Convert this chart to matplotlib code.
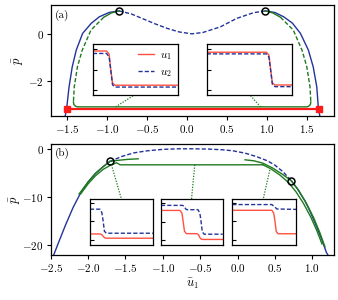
import numpy as np
import matplotlib
matplotlib.use('Agg')
import matplotlib.pyplot as plt
from matplotlib.ticker import FuncFormatter

plt.rcParams['font.family'] = 'serif'
plt.rcParams['font.serif'] = ['cmr10', 'DejaVu Serif']
plt.rcParams['mathtext.fontset'] = 'cm'
plt.rcParams['font.size'] = 8

BLUE = '#23339a'
GREEN = '#1f7a1f'
RED = '#ff1a1a'
IRED = '#ff5040'

# ---- panel (a) ----
a_blue_l_u = [-1.53, -1.51, -1.48, -1.44, -1.39, -1.31, -1.20, -1.10, -0.98, -0.855]
a_blue_l_p = [-3.5, -3.15, -2.24, -1.39, -0.69, 0.02, 0.45, 0.72, 0.90, 0.97]
a_dash_u = [-0.855, -0.7, -0.55, -0.4, -0.25, -0.1, 0.06, 0.2, 0.42, 0.62, 0.83, 0.98]
a_dash_p = [0.97, 0.84, 0.63, 0.42, 0.23, 0.08, 0.0, 0.06, 0.3, 0.65, 0.89, 0.97]
a_blue_r_u = [0.98, 1.10, 1.21, 1.32, 1.42, 1.52, 1.58, 1.625, 1.645, 1.665]
a_blue_r_p = [0.97, 0.90, 0.72, 0.45, 0.02, -0.69, -1.39, -2.24, -3.15, -3.5]
a_green_l_u = [-0.855, -0.95, -1.045, -1.205, -1.315, -1.375, -1.415, -1.425]
a_green_l_p = [0.97, 0.88, 0.70, 0.16, -0.69, -1.39, -2.24, -2.87]
a_green_r_u = [0.98, 1.075, 1.17, 1.33, 1.44, 1.50, 1.54, 1.55]
a_green_r_p = [0.97, 0.88, 0.70, 0.16, -0.69, -1.39, -2.24, -2.87]
a_green_b_u = [-1.425, -1.42, -1.40, -1.375, 1.50, 1.525, 1.545, 1.55]
a_green_b_p = [-2.87, -2.98, -3.05, -3.08, -3.08, -3.05, -2.98, -2.87]
a_red_u = [-1.5, 1.65]
a_red_p = [-3.15, -3.15]
a_circ_u = [-0.855, 0.98]
a_circ_p = [0.97, 0.97]

# ---- panel (b) ----
b_blue_l_u = [-2.46, -2.4, -2.3, -2.2, -2.1, -2.0, -1.9, -1.8, -1.71]
b_blue_l_p = [-22.1, -19.7, -15.8, -12.2, -9.2, -6.9, -5.1, -3.75, -2.64]
b_dash_u = [-1.71, -1.55, -1.39, -1.2, -1.0, -0.8, -0.6, -0.4, -0.2, -0.06, 0.1, 0.25, 0.4, 0.5, 0.61, 0.72]
b_dash_p = [-2.64, -1.6, -0.85, -0.4, -0.12, 0.0, 0.0, -0.05, -0.2, -0.42, -0.9, -1.6, -2.5, -3.4, -4.8, -6.67]
b_blue_r_u = [0.72, 0.8, 0.9, 0.97, 1.05, 1.12, 1.19, 1.21]
b_blue_r_p = [-6.67, -8.3, -10.8, -13.0, -15.9, -18.6, -21.6, -22.1]
b_gB_u = [-2.12, -2.0, -1.9, -1.8, -1.71, -1.6, -1.47, -1.33]
b_gB_p = [-9.4, -6.9, -5.1, -3.75, -2.64, -2.4, -2.2, -2.08]
b_gA_u = [-2.1, -2.0, -1.9, -1.8, -1.7, -1.62, -1.57, 0.34]
b_gA_p = [-9.4, -7.3, -5.6, -4.3, -3.4, -2.9, -3.33, -3.33]
b_gC_u = [0.1, 0.22, 0.34, 0.47, 0.6, 0.72, 0.82, 0.92, 1.02, 1.1, 1.17]
b_gC_p = [-2.29, -2.5, -3.0, -4.0, -5.3, -6.67, -8.7, -11.3, -14.4, -17.4, -20.4]
b_gD_u = [0.34, 0.45, 0.57, 0.68, 0.78, 0.88, 0.98, 1.06, 1.13]
b_gD_p = [-3.33, -4.2, -5.5, -7.0, -8.9, -11.3, -14.2, -17.0, -19.8]
b_circ_u = [-1.71, 0.72]
b_circ_p = [-2.64, -6.67]

# ---- inset profiles ----
i1_x = [0, 0.16, 0.19, 0.21, 0.23, 0.26, 1]
i1_u1 = [0.9, 0.9, 0.75, 0.0, -0.65, -0.76, -0.76]
i1_u2 = [0.78, 0.78, 0.62, -0.05, -0.74, -0.85, -0.85]
i2_x = [0, 0.70, 0.73, 0.75, 0.77, 0.80, 1]
i2_u1 = [0.84, 0.84, 0.7, 0.0, -0.65, -0.75, -0.75]
i2_u2 = [0.76, 0.76, 0.6, -0.05, -0.72, -0.83, -0.83]
i3_x = [0, 0.16, 0.19, 0.21, 0.23, 0.26, 1]
i3_u1 = [-0.70, -0.70, -0.74, -0.82, -0.90, -0.93, -0.93]
i3_u2 = [0.64, 0.64, 0.45, 0.0, -0.55, -0.66, -0.66]
i4_x1 = [0, 0.31, 0.34, 0.36, 0.38, 0.41, 0.58, 0.61, 0.63, 0.65, 0.68, 1]
i4_u1 = [0.6, 0.6, 0.45, 0.0, -0.5, -0.64, -0.64, -0.7, -0.85, -0.93, -0.95, -0.95]
i4_x2 = [0, 0.35, 0.38, 0.40, 0.42, 0.60, 0.63, 0.65, 0.67, 0.70, 1]
i4_u2 = [0.87, 0.87, 0.80, 0.68, 0.64, 0.64, 0.45, 0.0, -0.55, -0.67, -0.67]
i5_x1 = [0, 0.62, 0.65, 0.67, 0.69, 0.72, 1]
i5_u1 = [0.6, 0.6, 0.45, 0.0, -0.55, -0.67, -0.67]
i5_x2 = [0, 0.62, 0.66, 0.70, 1]
i5_u2 = [0.91, 0.91, 0.8, 0.67, 0.65]

fig = plt.figure(figsize=(3.38, 3.0), dpi=100)

def fmt(v, pos):
    s = '%g' % v
    if s == '-0':
        s = '0'
    if '.' not in s and abs(v) < 5 and v != 0 and abs(v) != int(abs(v)) :
        pass
    return '$' + s + '$'

def fmt1(v, pos):
    return '$%.1f$' % v

def style_main(ax):
    for s in ax.spines.values():
        s.set_linewidth(0.9)
    ax.tick_params(direction='out', length=3, width=0.8, labelsize=8, pad=2)

# panel (a)
ax1 = fig.add_axes([0.150, 0.613, 0.838, 0.369])
ax1.plot(a_blue_l_u, a_blue_l_p, color=BLUE, lw=1.0)
ax1.plot(a_blue_r_u, a_blue_r_p, color=BLUE, lw=1.0)
ax1.plot(a_dash_u, a_dash_p, color=BLUE, lw=1.0, ls=(0, (3, 1.5)))
ax1.plot(a_green_l_u[:3], a_green_l_p[:3], color=GREEN, lw=1.0)
ax1.plot(a_green_l_u[2:], a_green_l_p[2:], color=GREEN, lw=1.0, ls=(0, (3, 1.5)))
ax1.plot(a_green_r_u[:3], a_green_r_p[:3], color=GREEN, lw=1.0)
ax1.plot(a_green_r_u[2:], a_green_r_p[2:], color=GREEN, lw=1.0, ls=(0, (3, 1.5)))
ax1.plot(a_green_b_u, a_green_b_p, color=GREEN, lw=1.0)
ax1.plot(a_red_u, a_red_p, color=RED, lw=1.6)
ax1.plot(a_red_u, a_red_p, ls='none', marker='s', ms=4.5, color=RED)
ax1.plot(a_circ_u, a_circ_p, ls='none', marker='o', ms=5, mfc='none', mec='black', mew=1.1)
ax1.plot([-0.896, -0.667], [-3.08, -2.59], color=GREEN, lw=0.9, ls=(0, (1, 1.2)))
ax1.plot([0.92, 0.79], [-3.08, -2.59], color=GREEN, lw=0.9, ls=(0, (1, 1.2)))
ax1.set_xlim(-1.71, 1.84)
ax1.set_ylim(-3.47, 1.2)
ax1.set_xticks([-1.5, -1.0, -0.5, 0.0, 0.5, 1.0, 1.5])
ax1.set_yticks([-2, 0])
ax1.xaxis.set_major_formatter(FuncFormatter(fmt1))
ax1.yaxis.set_major_formatter(FuncFormatter(fmt))
ax1.set_ylabel(r'$\bar{p}$', fontsize=9, labelpad=2)
ax1.text(0.015, 0.965, '(a)', transform=ax1.transAxes, va='top', ha='left', fontsize=8)
style_main(ax1)

# panel (b)
ax2 = fig.add_axes([0.150, 0.150, 0.838, 0.370])
ax2.plot(b_blue_l_u, b_blue_l_p, color=BLUE, lw=1.0)
ax2.plot(b_blue_r_u, b_blue_r_p, color=BLUE, lw=1.0)
ax2.plot(b_dash_u, b_dash_p, color=BLUE, lw=1.0, ls=(0, (3, 1.5)))
for gu, gp in [(b_gA_u, b_gA_p), (b_gB_u, b_gB_p), (b_gC_u, b_gC_p), (b_gD_u, b_gD_p)]:
    ax2.plot(gu, gp, color=GREEN, lw=1.0)
ax2.plot(b_circ_u, b_circ_p, ls='none', marker='o', ms=5, mfc='none', mec='black', mew=1.1)
ax2.plot([-1.687, -1.553], [-3.33, -10.5], color=GREEN, lw=0.9, ls=(0, (1, 1.2)))
ax2.plot([-0.572, -0.616], [-3.33, -10.5], color=GREEN, lw=0.9, ls=(0, (1, 1.2)))
ax2.plot([0.432, 0.343], [-4.4, -10.5], color=GREEN, lw=0.9, ls=(0, (1, 1.2)))
ax2.set_xlim(-2.5, 1.29)
ax2.set_ylim(-22.1, 1.0)
ax2.set_xticks([-2.5, -2.0, -1.5, -1.0, -0.5, 0.0, 0.5, 1.0])
ax2.set_yticks([-20, -10, 0])
ax2.xaxis.set_major_formatter(FuncFormatter(fmt1))
ax2.yaxis.set_major_formatter(FuncFormatter(fmt))
ax2.set_ylabel(r'$\bar{p}$', fontsize=9, labelpad=0)
ax2.set_xlabel(r'$\bar{u}_1$', fontsize=9, labelpad=2)
ax2.text(0.015, 0.965, '(b)', transform=ax2.transAxes, va='top', ha='left', fontsize=8)
style_main(ax2)

def inset(rect, x1, y1, x2, y2, ylim):
    ax = fig.add_axes(rect)
    ax.plot(x1, y1, color=IRED, lw=1.0, label=r'$u_1$')
    ax.plot(x2, y2, color=BLUE, lw=1.0, ls=(0, (3, 1.5)), label=r'$u_2$')
    ax.set_xlim(0, 1)
    ax.set_ylim(*ylim)
    ax.set_xticks([])
    ax.set_yticks([-1, 0, 1])
    ax.set_yticklabels([])
    ax.tick_params(axis='y', direction='in', length=3, width=0.8)
    for s in ax.spines.values():
        s.set_linewidth(0.9)
    return ax

in1 = inset([0.275, 0.683, 0.2515, 0.169], i1_x, i1_u1, i1_x, i1_u2, (-1.24, 1.22))
in1.legend(loc='upper right', frameon=False, fontsize=8, handlelength=1.5,
           labelspacing=0.45, borderaxespad=0.15, handletextpad=0.5)
inset([0.6115, 0.683, 0.2524, 0.169], i2_x, i2_u1, i2_x, i2_u2, (-1.24, 1.22))
inset([0.266, 0.185, 0.1864, 0.151], i3_x, i3_u1, i3_x, i3_u2, (-1.27, 1.18))
inset([0.4763, 0.185, 0.1825, 0.151], i4_x1, i4_u1, i4_x2, i4_u2, (-1.22, 1.2))
inset([0.6873, 0.185, 0.1885, 0.151], i5_x1, i5_u1, i5_x2, i5_u2, (-1.25, 1.2))

fig.savefig('out.png', dpi=100)
